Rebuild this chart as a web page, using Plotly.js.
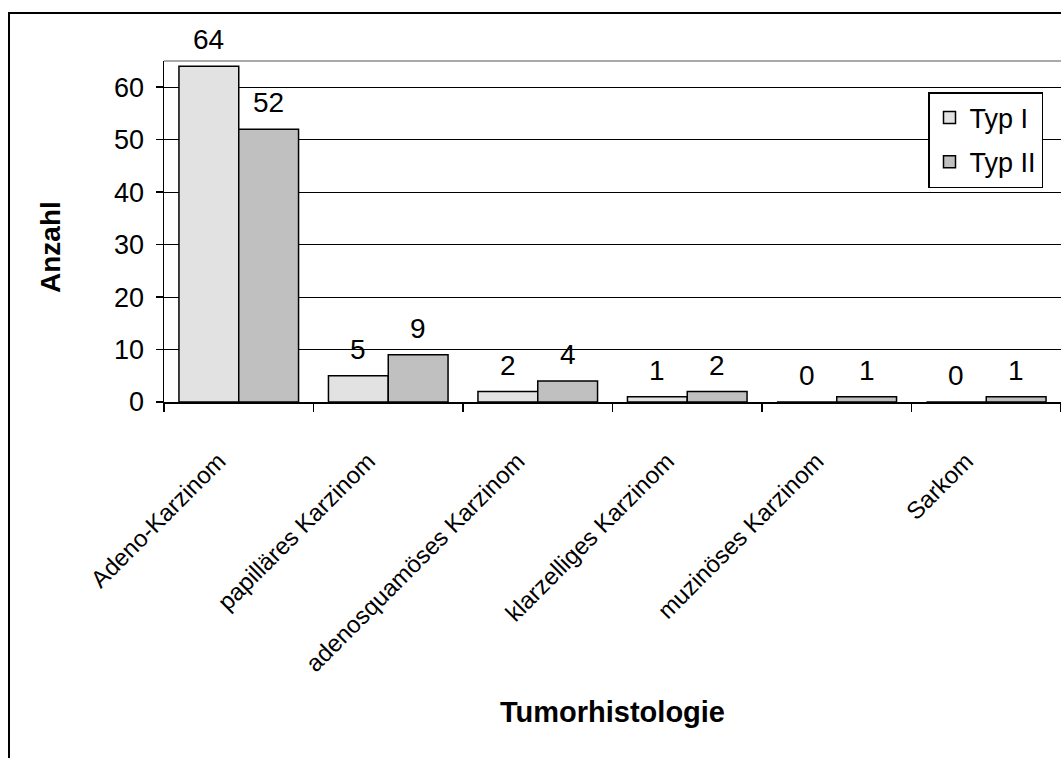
<!DOCTYPE html>
<html>
<head>
<meta charset="utf-8">
<script src="https://cdn.plot.ly/plotly-3.0.1.min.js"></script>
<style>
  html, body { margin: 0; padding: 0; background: #ffffff; }
  #chart { width: 1061px; height: 758px; }
</style>
</head>
<body>
<div id="chart"></div>
<script>
// Histologie der Tumoren, Typ I gegen Typ II
const categories = [
  "Adeno-Karzinom",
  "papilläres Karzinom",
  "adenosquamöses Karzinom",
  "klarzelliges Karzinom",
  "muzinöses Karzinom",
  "Sarkom"
];
const seriesNames = ["Typ I", "Typ II"];
const typ1 = [64, 5, 2, 1, 0, 0];
const typ2 = [52, 9, 4, 2, 1, 1];
const yTicks = [0, 10, 20, 30, 40, 50, 60];

const W = 1061, H = 758;
const M = { l: 164, r: 0, t: 61, b: 356 };
const plotW = W - M.l - M.r, plotH = H - M.t - M.b;
// page pixel -> paper fraction
const px = v => (v - M.l) / plotW;
const py = v => (H - M.b - v) / plotH;

const font = "Liberation Sans, Arial, sans-serif";
const colors = ["#e2e2e2", "#c0c0c0"];

const traces = [typ1, typ2].map((vals, i) => ({
  type: "bar",
  name: seriesNames[i],
  legendgroup: "g" + i,
  x: categories,
  y: vals,
  marker: { color: colors[i], line: { color: "#000000", width: 1.5 } },
  hoverinfo: "x+y+name"
}));

// value labels above each bar
const annotations = [];
[typ1, typ2].forEach((vals, i) => {
  vals.forEach((v, k) => {
    annotations.push({
      x: categories[k], y: v, xref: "x", yref: "y",
      xshift: i === 0 ? -30 : 30, yshift: 9,
      yanchor: "bottom", showarrow: false,
      text: String(v),
      font: { family: font, size: 28, color: "#000000" }
    });
  });
});

// y axis title, set slightly below the middle of the axis
annotations.push({
  xref: "paper", yref: "paper", x: px(50), y: py(247),
  xanchor: "center", yanchor: "middle", showarrow: false,
  textangle: -90, text: "Anzahl",
  font: { family: font, size: 28, color: "#000000", weight: "bold" }
});

const shapes = [
  // plot area top border
  { type: "line", xref: "paper", yref: "paper", x0: 0, x1: 1, y0: 1, y1: 1,
    line: { color: "#8c8c8c", width: 1.5 } },
  // chart frame (left and top edges)
  { type: "line", xref: "paper", yref: "paper", x0: px(9), x1: px(9), y0: py(12), y1: py(770),
    line: { color: "#000000", width: 2 } },
  { type: "line", xref: "paper", yref: "paper", x0: px(8), x1: px(1070), y0: py(13), y1: py(13),
    line: { color: "#000000", width: 2 } }
];

const layout = {
  width: W, height: H,
  margin: M,
  paper_bgcolor: "#ffffff",
  plot_bgcolor: "#ffffff",
  barmode: "group",
  bargap: 0.2,
  bargroupgap: 0,
  showlegend: true,
  legend: {
    x: px(928), y: py(92), xanchor: "left", yanchor: "top",
    bgcolor: "#ffffff", bordercolor: "#000000", borderwidth: 1.5,
    font: { family: font, size: 27, color: "#000000" },
    tracegroupgap: 6,
    itemwidth: 30
  },
  xaxis: {
    type: "category",
    tickson: "boundaries",
    ticks: "outside", ticklen: 8, tickwidth: 1.5, tickcolor: "#000000",
    showline: true, linecolor: "#000000", linewidth: 1.5,
    showgrid: false, zeroline: false,
    tickangle: -45,
    ticklabelstandoff: 34,
    ticklabelshift: -20,
    tickfont: { family: font, size: 24, color: "#000000" },
    title: { text: "Tumorhistologie", standoff: 26,
             font: { family: font, size: 29, color: "#000000", weight: "bold" } },
    automargin: false
  },
  yaxis: {
    range: [0, 65],
    tickvals: yTicks,
    ticks: "outside", ticklen: 7, tickwidth: 1.5, tickcolor: "#000000",
    showline: true, linecolor: "#000000", linewidth: 1.5,
    showgrid: true, gridcolor: "#000000", gridwidth: 1,
    zeroline: false,
    ticklabelstandoff: 6,
    tickfont: { family: font, size: 27, color: "#000000" },
    automargin: false
  },
  annotations: annotations,
  shapes: shapes
};

Plotly.newPlot("chart", traces, layout, { displayModeBar: false, staticPlot: true });
</script>
</body>
</html>
